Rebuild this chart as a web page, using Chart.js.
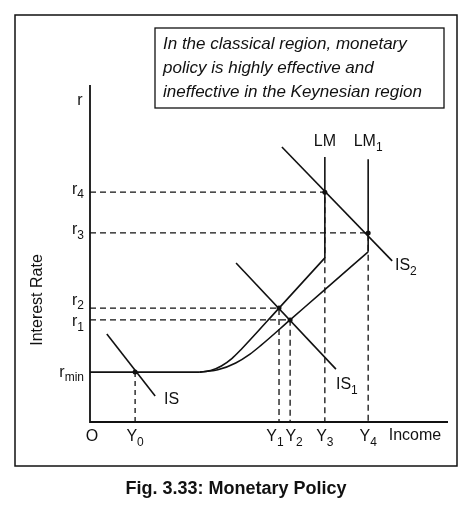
<!DOCTYPE html>
<html><head><meta charset="utf-8">
<script src="https://cdn.jsdelivr.net/npm/chart.js@4/dist/chart.umd.min.js"></script>
<style>html,body{margin:0;padding:0;background:#fff}canvas{display:block}</style>
</head><body><canvas id="c" width="474" height="522"></canvas>
<script>
// Income levels (x) and interest rates (y), arbitrary units 0..100
const incomeTicks = {Y0:12.6, Y1:52.8, Y2:55.9, Y3:65.6, Y4:77.7};
const rateTicks = {rmin:14.8, r1:30.3, r2:33.8, r3:56.1, r4:68.2};
const liquidityTrap = [[0,14.8],[30.7,14.8]];
const lmCurve = [[30.7,14.8],[33.7,15.26],[36.7,16.63],[39.7,18.9],[42.15,21.45],[52.8,33.8],[65.6,48.7]];
const lmVertical = [[65.6,48.7],[65.6,78.6]];
const lm1Curve = [[30.7,14.8],[35.7,15.48],[40.7,17.53],[44.7,20.16],[47.66,22.66],[55.9,30.3],[65.6,39.3],[77.7,50.5]];
const lm1Vertical = [[77.7,50.5],[77.7,78]];
const isLine = [[4.7,26.1],[18.2,7.7]];
const is1Line = [[40.8,47.2],[68.7,15.7]];
const is2Line = [[53.6,81.6],[84.4,47.8]];
// equilibria: [income, rate]
const equilibria = [[incomeTicks.Y0,rateTicks.rmin],[incomeTicks.Y1,rateTicks.r2],[incomeTicks.Y2,rateTicks.r1],[incomeTicks.Y3,rateTicks.r4],[incomeTicks.Y4,rateTicks.r3]];

const pts = a => a.map(p=>({x:p[0],y:p[1]}));
const solid = (d,m)=>({data:pts(d),borderColor:'#111',borderWidth:1.6,pointRadius:0,showLine:true,tension:m?0.4:0,cubicInterpolationMode:m?'monotone':'default'});
const ds = [solid(liquidityTrap),solid(lmCurve,1),solid(lmVertical),solid(lm1Curve,1),solid(lm1Vertical),solid(isLine),solid(is1Line),solid(is2Line)];
equilibria.slice(1).forEach(e=>{
  ds.push({data:[{x:0,y:e[1]},{x:e[0],y:e[1]},{x:e[0],y:0}],borderColor:'#111',borderWidth:1.3,borderDash:[6,4],pointRadius:0,showLine:true});
});
ds.push({data:[{x:equilibria[0][0],y:equilibria[0][1]},{x:equilibria[0][0],y:0}],borderColor:'#111',borderWidth:1.3,borderDash:[5,4],pointRadius:0,showLine:true});
ds.push({data:pts(equilibria),pointRadius:2.5,pointBackgroundColor:'#111',pointBorderWidth:0,showLine:false});

const F='"Liberation Sans", Arial, sans-serif';
function sub(ctx,main,s,x,y,size,align){
  ctx.font=size+'px '+F;
  const w1=ctx.measureText(main).width; ctx.font=(size*0.75)+'px '+F;
  const w2=ctx.measureText(s).width; let x0=x;
  if(align==='right')x0=x-w1-w2; else if(align==='center')x0=x-(w1+w2)/2;
  ctx.textAlign='left';ctx.textBaseline='middle';
  ctx.font=size+'px '+F;ctx.fillText(main,x0,y);
  ctx.font=(size*0.75)+'px '+F;ctx.fillText(s,x0+w1,y+size*0.35);
}
const deco={id:'deco',afterDraw(ch){
  const c=ch.ctx,xs=ch.scales.x,ys=ch.scales.y;
  c.save();c.strokeStyle='#111';c.fillStyle='#111';
  c.lineWidth=1.5;c.strokeRect(15,15,442,451);
  c.lineWidth=1.3;c.strokeRect(155,28,289,80);
  c.font='italic 17px '+F;c.textAlign='left';c.textBaseline='middle';
  c.fillText('In the classical region, monetary',163,44);
  c.fillText('policy is highly effective and',163,68);
  c.fillText('ineffective in the Keynesian region',163,92);
  const X0=xs.getPixelForValue(0),Y0=ys.getPixelForValue(0);
  c.lineWidth=1.8;c.beginPath();c.moveTo(X0,ys.getPixelForValue(100));c.lineTo(X0,Y0);c.lineTo(448,Y0);c.stroke();
  c.font='16px '+F;c.textAlign='center';c.fillText('r',80,101);
  c.fillText('O',92,437);c.fillText('Income',415,436);
  c.save();c.translate(38,300);c.rotate(-Math.PI/2);c.fillText('Interest Rate',0,0);c.restore();
  const yl={rmin:['r','min',0],r1:['r','1',2],r2:['r','2',-8],r3:['r','3',-3],r4:['r','4',-3]};
  for(const k in rateTicks) sub(c,yl[k][0],yl[k][1],84,ys.getPixelForValue(rateTicks[k])+yl[k][2],16,'right');
  const xo={Y0:0,Y1:-4,Y2:4,Y3:0,Y4:0};
  for(const k in incomeTicks) sub(c,'Y',k.slice(1),xs.getPixelForValue(incomeTicks[k])+xo[k],437,16,'center');
  c.font='16px '+F;c.textAlign='center';c.fillText('LM',xs.getPixelForValue(65.6),142);
  sub(c,'LM','1',xs.getPixelForValue(77.7),142,16,'center');
  c.font='16px '+F;c.textAlign='left';c.fillText('IS',164,400);
  sub(c,'IS','1',336,385,16,'left');sub(c,'IS','2',395,266,16,'left');
  c.font='bold 18px '+F;c.textAlign='center';c.fillText('Fig. 3.33: Monetary Policy',236,489);
  c.restore();
}};
new Chart(document.getElementById('c'),{type:'scatter',data:{datasets:ds},
 options:{responsive:false,animation:false,events:[],layout:{padding:{left:90,right:26,top:85,bottom:100}},
  plugins:{legend:{display:false},tooltip:{enabled:false}},
  scales:{x:{type:'linear',min:0,max:100,display:false},y:{type:'linear',min:0,max:100,display:false}}},
 plugins:[deco]});
</script></body></html>
